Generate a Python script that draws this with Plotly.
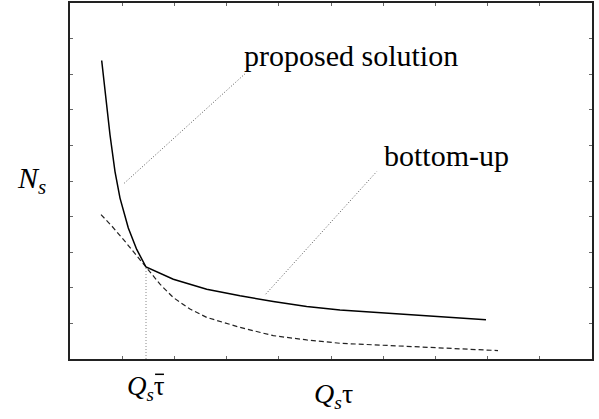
import plotly.graph_objects as go

# Curves (axis units 0..10 on both axes, no tick labels)
solid_x = [0.607, 0.766, 0.862, 0.958, 1.117, 1.278, 1.456, 1.979, 2.619, 3.257,
           3.894, 4.534, 5.172, 6.130, 7.088, 7.969]
solid_y = [8.385, 6.299, 5.265, 4.520, 3.682, 3.078, 2.584, 2.240, 1.961, 1.774,
           1.615, 1.475, 1.374, 1.279, 1.187, 1.103]

dashed_x = [0.594, 0.805, 1.034, 1.245, 1.456, 1.724, 1.979, 2.299, 2.619, 3.257,
            3.894, 4.534, 5.172, 6.130, 7.088, 8.199]
dashed_y = [4.056, 3.729, 3.338, 2.975, 2.584, 2.101, 1.726, 1.402, 1.168, 0.888,
            0.656, 0.536, 0.441, 0.377, 0.307, 0.237]

# Crossing point (Q_s tau-bar)
x_bar = 1.456
y_cross = 2.584

# Leader lines of the two labels
proposed_leader_x = [1.040, 3.352]
proposed_leader_y = [4.939, 8.011]
bottomup_leader_x = [3.749, 5.875]
bottomup_leader_y = [1.821, 5.265]

label_proposed = "proposed solution"
label_bottomup = "bottom-up"

SERIF = "Liberation Serif, Times New Roman, serif"

fig = go.Figure()

fig.add_trace(go.Scatter(x=dashed_x, y=dashed_y, mode="lines",
                         line=dict(color="#222222", width=1.2, dash="5px,3px"),
                         showlegend=False, hoverinfo="skip"))
fig.add_trace(go.Scatter(x=solid_x, y=solid_y, mode="lines",
                         line=dict(color="black", width=1.5),
                         showlegend=False, hoverinfo="skip"))
fig.add_trace(go.Scatter(x=[x_bar, x_bar], y=[0, y_cross], mode="lines",
                         line=dict(color="#888888", width=1, dash="1px,2px"),
                         showlegend=False, hoverinfo="skip"))
fig.add_trace(go.Scatter(x=proposed_leader_x, y=proposed_leader_y, mode="lines",
                         line=dict(color="#555555", width=1, dash="1px,2px"),
                         showlegend=False, hoverinfo="skip"))
fig.add_trace(go.Scatter(x=bottomup_leader_x, y=bottomup_leader_y, mode="lines",
                         line=dict(color="#555555", width=1, dash="1px,2px"),
                         showlegend=False, hoverinfo="skip"))

fig.add_annotation(x=3.295, y=8.52, xref="x", yref="y", text=label_proposed,
                   showarrow=False, xanchor="left", yanchor="middle",
                   font=dict(family=SERIF, size=30, color="black"))
fig.add_annotation(x=5.971, y=5.73, xref="x", yref="y", text=label_bottomup,
                   showarrow=False, xanchor="left", yanchor="middle",
                   font=dict(family=SERIF, size=30, color="black"))
fig.add_annotation(x=-0.105, y=0.504, xref="paper", yref="paper",
                   text="<i>N</i><sub><i>s</i></sub>",
                   showarrow=False, xanchor="left", yanchor="middle",
                   font=dict(family=SERIF, size=30, color="black"))
fig.add_annotation(x=x_bar, y=-0.082, xref="x", yref="paper",
                   text="<i>Q</i><sub><i>s</i></sub>\u03c4",
                   showarrow=False, xanchor="center", yanchor="middle",
                   font=dict(family=SERIF, size=27, color="black"))
fig.add_annotation(x=0.505, y=-0.102, xref="paper", yref="paper",
                   text="<i>Q</i><sub><i>s</i></sub>\u03c4",
                   showarrow=False, xanchor="center", yanchor="middle",
                   font=dict(family=SERIF, size=28, color="black"))
# overbar on the tau of the Q_s tau-bar label
fig.add_shape(type="line", xref="paper", yref="paper",
              x0=0.163, x1=0.180, y0=-0.043, y1=-0.043,
              line=dict(color="black", width=1.5))

axis_common = dict(range=[0, 10], dtick=1, tick0=0, ticks="inside", ticklen=3,
                   tickcolor="#666666", showticklabels=False, showgrid=False,
                   zeroline=False, showline=True, linecolor="#222222",
                   linewidth=1.5, mirror="ticks", fixedrange=True)

fig.update_layout(
    width=599, height=419,
    margin=dict(l=70, r=7, t=1, b=60),
    paper_bgcolor="white", plot_bgcolor="white",
    xaxis=axis_common, yaxis=axis_common,
)

fig.write_html("out.html", config={"displayModeBar": False},
               post_script="document.body.style.margin='0';document.body.style.padding='0';")
